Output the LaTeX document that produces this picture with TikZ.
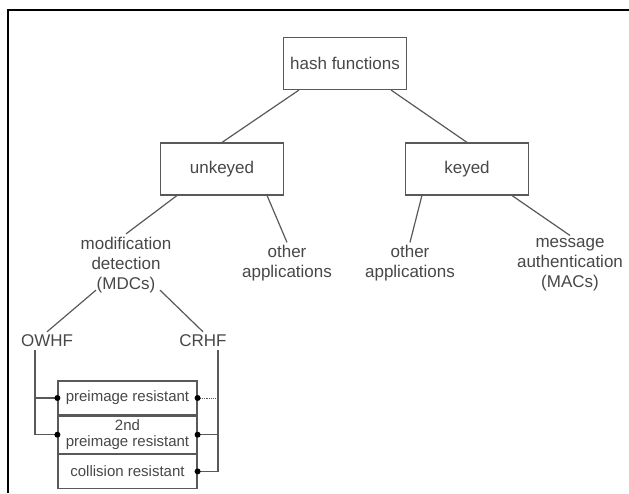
\documentclass[tikz,border=0pt]{standalone}
\usepackage{fontspec}
\setmainfont{Liberation Sans}
\usetikzlibrary{positioning}
\colorlet{Tinta}{black!72}
\colorlet{Trazo}{black!65}
\tikzstyle{CajaHash}=[rectangle, draw=Trazo, line width=1.2pt, text=Tinta, minimum width=123pt, minimum height=52pt, font=\fontsize{17}{20}\selectfont]
\tikzstyle{Etiqueta}=[align=center, text=Tinta, inner sep=3pt, font=\fontsize{17}{20}\selectfont]
\tikzstyle{Fila}=[rectangle, draw=Trazo, line width=1.2pt, text=Tinta, align=center, minimum width=139pt, inner sep=0pt, font=\fontsize{15}{16}\selectfont]
\tikzstyle{Linea}=[draw=Trazo, line width=1.2pt]
\tikzstyle{Punto}=[fill=black]

\begin{document}
\begin{tikzpicture}[x=1pt, y=-1pt]
			\useasboundingbox (0,0) rectangle (629,493);
			\draw[line width=2pt] (8,493) |- (629,10);

			%Nodos
			\node[CajaHash]	(hash)		at (345,63.5)	{hash functions};
			\node[CajaHash]	(unkeyed)	at (222,169)	{unkeyed};
			\node[CajaHash]	(keyed)		at (467,169)	{keyed};

			\node[Etiqueta]	(mdc)		at (126,265)	{modification\\detection\\(MDCs)};
			\node[Etiqueta]	(otherA)	at (287,263.5)	{other\\applications};
			\node[Etiqueta]	(otherB)	at (410,263.5)	{other\\applications};
			\node[Etiqueta]	(mac)		at (570,265)	{message\\authentication\\(MACs)};

			\node[Etiqueta]	(owhf)		at (47,341)		{OWHF};
			\node[Etiqueta]	(crhf)		at (203,341)	{CRHF};

			\node[Fila, minimum height=34pt]	(pre)		at (127.5,398)			{preimage resistant};
			\node[Fila, minimum height=37pt]	(second)	[below=0pt of pre]		{2nd\\preimage resistant};
			\node[Fila, minimum height=34pt]	(coll)		[below=0pt of second]	{collision resistant};

			%Lineas
			\draw[Linea] ([xshift=16pt]hash.south west) -- (unkeyed.north);
			\draw[Linea] ([xshift=-16pt]hash.south east) -- (keyed.north);
			\draw[Linea] ([xshift=17pt]unkeyed.south west) -- (mdc.north);
			\draw[Linea] ([xshift=-17pt]unkeyed.south east) -- (otherA.north);
			\draw[Linea] ([xshift=17pt]keyed.south west) -- (otherB.north);
			\draw[Linea] ([xshift=-17pt]keyed.south east) -- (mac.north);
			\draw[Linea] ([xshift=-30pt,yshift=6pt]mdc.south) -- (owhf.north);
			\draw[Linea] ([xshift=34pt,yshift=6pt]mdc.south) -- (crhf.north);

			%Propiedades
			\coordinate (owhfdown) at ([xshift=-12pt]owhf.south);
			\coordinate (crhfdown) at ([xshift=15pt]crhf.south);
			\draw[Linea] (owhfdown) |- (second.west);
			\draw[Linea] (pre.west) -| (owhfdown);
			\draw[Linea] (crhfdown) |- (coll.east);
			\draw[Linea] (second.east) -| (crhfdown);
			\draw[Linea, densely dotted, line width=0.8pt] (pre.east) -- (pre.east -| crhfdown);

			%Puntos
			\fill[Punto] (pre.west) circle (3pt);
			\fill[Punto] (second.west) circle (3pt);
			\fill[Punto] (pre.east) circle (3pt);
			\fill[Punto] (second.east) circle (3pt);
			\fill[Punto] (coll.east) circle (3pt);

		\end{tikzpicture}
\end{document}
